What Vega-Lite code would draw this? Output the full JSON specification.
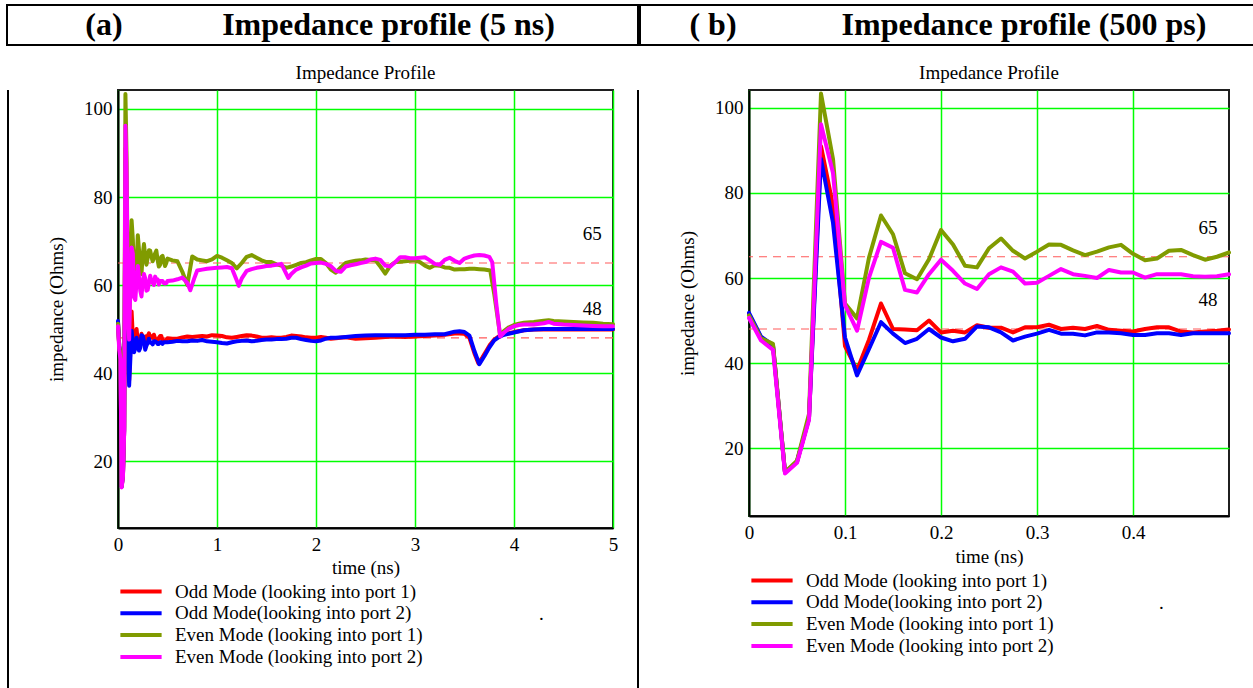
{
  "$schema": "https://vega.github.io/schema/vega-lite/v6.json",
  "padding": {"left": 5, "top": 4, "right": 0, "bottom": 0},
  "background": "white",
  "config": {
    "font": "Liberation Serif",
    "view": {"stroke": null},
    "axis": {
      "labelFont": "Liberation Serif", "labelFontSize": 19, "labelColor": "black",
      "titleFont": "Liberation Serif", "titleFontSize": 19, "titleFontWeight": "normal", "titleColor": "black",
      "grid": true, "gridColor": "#00ff00", "gridWidth": 1.5, "gridOpacity": 1,
      "ticks": false, "domainColor": "black", "domainWidth": 2,
      "labelFlush": false, "labelOverlap": false, "labelPadding": 7, "format": "~r"
    },
    "legend": {
      "orient": "bottom", "direction": "vertical",
      "symbolType": "stroke", "symbolStrokeWidth": 4, "symbolSize": 1700, "clipHeight": 19,
      "labelFont": "Liberation Serif", "labelFontSize": 19, "labelColor": "black",
      "labelOffset": 11, "labelLimit": 500, "rowPadding": 1.8, "offset": 5,
      "titleOrient": "right", "titleAnchor": "middle", "titleBaseline": "bottom", "titleFont": "Liberation Serif", "titleFontSize": 19,
      "titleFontWeight": "normal", "titleColor": "black", "titlePadding": 108
    },
    "title": {"font": "Liberation Serif", "fontSize": 19, "fontWeight": "normal", "color": "black", "anchor": "middle"}
  },
  "datasets": {
    "refs": [{"v": 65}, {"v": 48}],
    "imp": [
      {"s":"o1","t":0,"z":51.5},{"s":"o1","t":0.0125,"z":46},{"s":"o1","t":0.025,"z":44},{"s":"o1","t":0.0375,"z":14.2},{"s":"o1","t":0.05,"z":16.8},{"s":"o1","t":0.0625,"z":27},{"s":"o1","t":0.075,"z":91},{"s":"o1","t":0.0875,"z":77},{"s":"o1","t":0.1,"z":44},{"s":"o1","t":0.1125,"z":38.3},{"s":"o1","t":0.125,"z":45.5},{"s":"o1","t":0.1375,"z":54},{"s":"o1","t":0.15,"z":48},{"s":"o1","t":0.1625,"z":47.9},{"s":"o1","t":0.175,"z":47.7},{"s":"o1","t":0.1875,"z":50},{"s":"o1","t":0.2,"z":47.2},{"s":"o1","t":0.2125,"z":47.6},{"s":"o1","t":0.225,"z":47.2},{"s":"o1","t":0.2375,"z":48.9},{"s":"o1","t":0.25,"z":48.3},{"s":"o1","t":0.2625,"z":48.3},{"s":"o1","t":0.275,"z":47.2},{"s":"o1","t":0.2875,"z":48.4},{"s":"o1","t":0.3,"z":48.4},{"s":"o1","t":0.3125,"z":49.0},{"s":"o1","t":0.325,"z":48.0},{"s":"o1","t":0.3375,"z":48.3},{"s":"o1","t":0.35,"z":48.0},{"s":"o1","t":0.3625,"z":48.7},{"s":"o1","t":0.375,"z":47.8},{"s":"o1","t":0.3875,"z":47.6},{"s":"o1","t":0.4,"z":47.4},{"s":"o1","t":0.4125,"z":48.0},{"s":"o1","t":0.425,"z":48.4},{"s":"o1","t":0.4375,"z":48.4},{"s":"o1","t":0.45,"z":47.4},{"s":"o1","t":0.4625,"z":47.2},{"s":"o1","t":0.475,"z":47.4},{"s":"o1","t":0.4875,"z":47.6},{"s":"o1","t":0.5,"z":47.9},
      {"s":"o1","t":0.55,"z":47.8},{"s":"o1","t":0.6,"z":47.8},{"s":"o1","t":0.65,"z":48.1},{"s":"o1","t":0.7,"z":48.3},{"s":"o1","t":0.75,"z":48.2},{"s":"o1","t":0.8,"z":48.3},{"s":"o1","t":0.85,"z":48.4},{"s":"o1","t":0.9,"z":48.3},{"s":"o1","t":0.95,"z":48.6},{"s":"o1","t":1.0,"z":48.5},{"s":"o1","t":1.05,"z":48.4},{"s":"o1","t":1.1,"z":48.1},{"s":"o1","t":1.15,"z":48.0},{"s":"o1","t":1.2,"z":48.2},{"s":"o1","t":1.25,"z":48.4},{"s":"o1","t":1.3,"z":48.6},{"s":"o1","t":1.35,"z":48.5},{"s":"o1","t":1.4,"z":48.3},{"s":"o1","t":1.45,"z":48.0},{"s":"o1","t":1.5,"z":48.0},{"s":"o1","t":1.55,"z":48.1},{"s":"o1","t":1.6,"z":48.0},{"s":"o1","t":1.65,"z":48.0},{"s":"o1","t":1.7,"z":48.2},{"s":"o1","t":1.75,"z":48.5},{"s":"o1","t":1.8,"z":48.4},{"s":"o1","t":1.85,"z":48.3},{"s":"o1","t":1.9,"z":48.1},{"s":"o1","t":1.95,"z":48.0},{"s":"o1","t":2.0,"z":48.0},{"s":"o1","t":2.05,"z":48.2},{"s":"o1","t":2.1,"z":48.0},{"s":"o1","t":2.15,"z":47.8},{"s":"o1","t":2.2,"z":47.9},{"s":"o1","t":2.3,"z":48.1},{"s":"o1","t":2.4,"z":47.8},{"s":"o1","t":2.5,"z":47.9},{"s":"o1","t":2.6,"z":48.0},{"s":"o1","t":2.7,"z":48.2},{"s":"o1","t":2.8,"z":48.3},{"s":"o1","t":2.9,"z":48.2},{"s":"o1","t":3.0,"z":48.3},{"s":"o1","t":3.1,"z":48.4},{"s":"o1","t":3.2,"z":48.5},{"s":"o1","t":3.3,"z":48.7},{"s":"o1","t":3.4,"z":49.0},{"s":"o1","t":3.45,"z":49.0},{"s":"o1","t":3.5,"z":48.9},{"s":"o1","t":3.55,"z":48.0},{"s":"o1","t":3.6,"z":44.5},{"s":"o1","t":3.64,"z":42.2},{"s":"o1","t":3.68,"z":43.5},{"s":"o1","t":3.72,"z":45.0},{"s":"o1","t":3.76,"z":46.5},{"s":"o1","t":3.8,"z":47.6},{"s":"o1","t":3.85,"z":48.4},{"s":"o1","t":3.9,"z":48.8},{"s":"o1","t":4.0,"z":49.3},{"s":"o1","t":4.1,"z":49.7},{"s":"o1","t":4.2,"z":49.9},{"s":"o1","t":4.3,"z":49.9},{"s":"o1","t":4.5,"z":49.9},{"s":"o1","t":4.7,"z":49.9},{"s":"o1","t":5.0,"z":49.9},
      {"s":"o2","t":0,"z":51.8},{"s":"o2","t":0.0125,"z":46.2},{"s":"o2","t":0.025,"z":44.2},{"s":"o2","t":0.0375,"z":14.2},{"s":"o2","t":0.05,"z":16.8},{"s":"o2","t":0.0625,"z":27},{"s":"o2","t":0.075,"z":88},{"s":"o2","t":0.0875,"z":73},{"s":"o2","t":0.1,"z":46},{"s":"o2","t":0.1125,"z":37.1},{"s":"o2","t":0.125,"z":43.3},{"s":"o2","t":0.1375,"z":49.6},{"s":"o2","t":0.15,"z":46.9},{"s":"o2","t":0.1625,"z":44.7},{"s":"o2","t":0.175,"z":45.7},{"s":"o2","t":0.1875,"z":48},{"s":"o2","t":0.2,"z":46},{"s":"o2","t":0.2125,"z":45.1},{"s":"o2","t":0.225,"z":45.7},{"s":"o2","t":0.2375,"z":48.6},{"s":"o2","t":0.25,"z":48.4},{"s":"o2","t":0.2625,"z":47.2},{"s":"o2","t":0.275,"z":45.3},{"s":"o2","t":0.2875,"z":46.2},{"s":"o2","t":0.3,"z":46.9},{"s":"o2","t":0.3125,"z":47.8},{"s":"o2","t":0.325,"z":46.9},{"s":"o2","t":0.3375,"z":46.9},{"s":"o2","t":0.35,"z":46.5},{"s":"o2","t":0.3625,"z":47.2},{"s":"o2","t":0.375,"z":47.2},{"s":"o2","t":0.3875,"z":47.0},{"s":"o2","t":0.4,"z":46.6},{"s":"o2","t":0.4125,"z":46.6},{"s":"o2","t":0.425,"z":47.0},{"s":"o2","t":0.4375,"z":47.0},{"s":"o2","t":0.45,"z":46.6},{"s":"o2","t":0.4625,"z":47.0},{"s":"o2","t":0.475,"z":47.0},{"s":"o2","t":0.4875,"z":47.0},{"s":"o2","t":0.5,"z":47.0},
      {"s":"o2","t":0.55,"z":47.1},{"s":"o2","t":0.6,"z":47.3},{"s":"o2","t":0.65,"z":47.2},{"s":"o2","t":0.7,"z":47.2},{"s":"o2","t":0.75,"z":47.4},{"s":"o2","t":0.8,"z":47.3},{"s":"o2","t":0.85,"z":47.5},{"s":"o2","t":0.9,"z":47.2},{"s":"o2","t":0.95,"z":47.1},{"s":"o2","t":1.0,"z":47.0},{"s":"o2","t":1.05,"z":46.8},{"s":"o2","t":1.1,"z":46.7},{"s":"o2","t":1.15,"z":47.0},{"s":"o2","t":1.2,"z":47.2},{"s":"o2","t":1.25,"z":47.3},{"s":"o2","t":1.3,"z":47.4},{"s":"o2","t":1.35,"z":47.2},{"s":"o2","t":1.4,"z":47.3},{"s":"o2","t":1.45,"z":47.5},{"s":"o2","t":1.5,"z":47.6},{"s":"o2","t":1.55,"z":47.6},{"s":"o2","t":1.6,"z":47.7},{"s":"o2","t":1.65,"z":47.7},{"s":"o2","t":1.7,"z":47.8},{"s":"o2","t":1.75,"z":48.0},{"s":"o2","t":1.8,"z":48.0},{"s":"o2","t":1.85,"z":47.7},{"s":"o2","t":1.9,"z":47.5},{"s":"o2","t":1.95,"z":47.3},{"s":"o2","t":2.0,"z":47.2},{"s":"o2","t":2.05,"z":47.4},{"s":"o2","t":2.1,"z":47.8},{"s":"o2","t":2.15,"z":48.0},{"s":"o2","t":2.2,"z":48.0},{"s":"o2","t":2.3,"z":48.2},{"s":"o2","t":2.4,"z":48.4},{"s":"o2","t":2.5,"z":48.5},{"s":"o2","t":2.6,"z":48.6},{"s":"o2","t":2.7,"z":48.6},{"s":"o2","t":2.8,"z":48.6},{"s":"o2","t":2.9,"z":48.6},{"s":"o2","t":3.0,"z":48.7},{"s":"o2","t":3.1,"z":48.7},{"s":"o2","t":3.2,"z":48.8},{"s":"o2","t":3.3,"z":48.8},{"s":"o2","t":3.4,"z":49.4},{"s":"o2","t":3.45,"z":49.5},{"s":"o2","t":3.5,"z":49.3},{"s":"o2","t":3.55,"z":48.5},{"s":"o2","t":3.6,"z":45.0},{"s":"o2","t":3.65,"z":42.0},{"s":"o2","t":3.7,"z":43.8},{"s":"o2","t":3.75,"z":45.8},{"s":"o2","t":3.8,"z":47.4},{"s":"o2","t":3.85,"z":48.2},{"s":"o2","t":3.9,"z":48.7},{"s":"o2","t":4.0,"z":49.2},{"s":"o2","t":4.1,"z":49.7},{"s":"o2","t":4.2,"z":49.9},{"s":"o2","t":4.3,"z":50.0},{"s":"o2","t":4.5,"z":50.0},{"s":"o2","t":4.7,"z":50.0},{"s":"o2","t":5.0,"z":50.0},
      {"s":"e1","t":0,"z":51.2},{"s":"e1","t":0.0125,"z":45.8},{"s":"e1","t":0.025,"z":44.5},{"s":"e1","t":0.0375,"z":14.3},{"s":"e1","t":0.05,"z":17},{"s":"e1","t":0.0625,"z":28},{"s":"e1","t":0.075,"z":103.4},{"s":"e1","t":0.0875,"z":88},{"s":"e1","t":0.1,"z":54},{"s":"e1","t":0.1125,"z":50.5},{"s":"e1","t":0.125,"z":64.8},{"s":"e1","t":0.1375,"z":74.7},{"s":"e1","t":0.15,"z":70.3},{"s":"e1","t":0.1625,"z":61.1},{"s":"e1","t":0.175,"z":59.7},{"s":"e1","t":0.1875,"z":64.4},{"s":"e1","t":0.2,"z":71.3},{"s":"e1","t":0.2125,"z":67.9},{"s":"e1","t":0.225,"z":62.9},{"s":"e1","t":0.2375,"z":62.5},{"s":"e1","t":0.25,"z":67.0},{"s":"e1","t":0.2625,"z":69.3},{"s":"e1","t":0.275,"z":66.4},{"s":"e1","t":0.2875,"z":64.6},{"s":"e1","t":0.3,"z":66.2},{"s":"e1","t":0.3125,"z":67.9},{"s":"e1","t":0.325,"z":67.8},{"s":"e1","t":0.3375,"z":66.5},{"s":"e1","t":0.35,"z":65.4},{"s":"e1","t":0.3625,"z":66.2},{"s":"e1","t":0.375,"z":67.2},{"s":"e1","t":0.3875,"z":67.8},{"s":"e1","t":0.4,"z":65.7},{"s":"e1","t":0.4125,"z":64.2},{"s":"e1","t":0.425,"z":64.6},{"s":"e1","t":0.4375,"z":66.4},{"s":"e1","t":0.45,"z":66.6},{"s":"e1","t":0.4625,"z":65.4},{"s":"e1","t":0.475,"z":64.3},{"s":"e1","t":0.4875,"z":65.0},{"s":"e1","t":0.5,"z":66.0},
      {"s":"e1","t":0.55,"z":65.6},{"s":"e1","t":0.6,"z":65.4},{"s":"e1","t":0.65,"z":63.0},{"s":"e1","t":0.7,"z":60.0},{"s":"e1","t":0.75,"z":66.5},{"s":"e1","t":0.8,"z":65.8},{"s":"e1","t":0.85,"z":65.6},{"s":"e1","t":0.9,"z":65.4},{"s":"e1","t":0.95,"z":65.8},{"s":"e1","t":1.0,"z":66.6},{"s":"e1","t":1.05,"z":66.2},{"s":"e1","t":1.1,"z":65.6},{"s":"e1","t":1.15,"z":65.0},{"s":"e1","t":1.2,"z":63.8},{"s":"e1","t":1.25,"z":65.0},{"s":"e1","t":1.3,"z":66.4},{"s":"e1","t":1.35,"z":66.8},{"s":"e1","t":1.4,"z":66.2},{"s":"e1","t":1.45,"z":65.6},{"s":"e1","t":1.5,"z":65.2},{"s":"e1","t":1.55,"z":65.2},{"s":"e1","t":1.6,"z":64.7},{"s":"e1","t":1.65,"z":64.4},{"s":"e1","t":1.7,"z":63.9},{"s":"e1","t":1.75,"z":64.2},{"s":"e1","t":1.8,"z":64.6},{"s":"e1","t":1.85,"z":65.0},{"s":"e1","t":1.9,"z":65.2},{"s":"e1","t":1.95,"z":65.6},{"s":"e1","t":2.0,"z":65.9},{"s":"e1","t":2.05,"z":65.9},{"s":"e1","t":2.1,"z":65.0},{"s":"e1","t":2.15,"z":63.5},{"s":"e1","t":2.2,"z":62.8},{"s":"e1","t":2.25,"z":64.0},{"s":"e1","t":2.3,"z":65.0},{"s":"e1","t":2.35,"z":65.3},{"s":"e1","t":2.4,"z":65.5},{"s":"e1","t":2.45,"z":65.6},{"s":"e1","t":2.5,"z":65.8},{"s":"e1","t":2.55,"z":65.7},{"s":"e1","t":2.6,"z":65.6},{"s":"e1","t":2.65,"z":64.2},{"s":"e1","t":2.7,"z":62.6},{"s":"e1","t":2.75,"z":64.4},{"s":"e1","t":2.8,"z":65.2},{"s":"e1","t":2.85,"z":65.3},{"s":"e1","t":2.9,"z":65.4},{"s":"e1","t":2.95,"z":65.5},{"s":"e1","t":3.0,"z":65.6},{"s":"e1","t":3.05,"z":65.2},{"s":"e1","t":3.1,"z":64.4},{"s":"e1","t":3.15,"z":63.9},{"s":"e1","t":3.2,"z":64.5},{"s":"e1","t":3.25,"z":64.4},{"s":"e1","t":3.3,"z":64.0},{"s":"e1","t":3.35,"z":63.9},{"s":"e1","t":3.4,"z":63.5},{"s":"e1","t":3.45,"z":63.6},{"s":"e1","t":3.5,"z":63.6},{"s":"e1","t":3.55,"z":63.7},{"s":"e1","t":3.6,"z":63.7},{"s":"e1","t":3.65,"z":63.6},{"s":"e1","t":3.7,"z":63.5},{"s":"e1","t":3.76,"z":63.3},{"s":"e1","t":3.8,"z":58.0},{"s":"e1","t":3.86,"z":48.6},{"s":"e1","t":3.9,"z":49.6},{"s":"e1","t":3.95,"z":50.4},{"s":"e1","t":4.0,"z":50.9},{"s":"e1","t":4.05,"z":51.2},{"s":"e1","t":4.1,"z":51.4},{"s":"e1","t":4.2,"z":51.6},{"s":"e1","t":4.3,"z":51.9},{"s":"e1","t":4.35,"z":52.0},{"s":"e1","t":4.4,"z":51.8},{"s":"e1","t":4.5,"z":51.7},{"s":"e1","t":4.6,"z":51.6},{"s":"e1","t":4.7,"z":51.5},{"s":"e1","t":4.8,"z":51.4},{"s":"e1","t":4.9,"z":51.2},{"s":"e1","t":5.0,"z":51.1},
      {"s":"e2","t":0,"z":50.6},{"s":"e2","t":0.0125,"z":45.3},{"s":"e2","t":0.025,"z":43.1},{"s":"e2","t":0.0375,"z":14.0},{"s":"e2","t":0.05,"z":16.5},{"s":"e2","t":0.0625,"z":26.6},{"s":"e2","t":0.075,"z":96.2},{"s":"e2","t":0.0875,"z":84.7},{"s":"e2","t":0.1,"z":53.6},{"s":"e2","t":0.1125,"z":47.6},{"s":"e2","t":0.125,"z":60.1},{"s":"e2","t":0.1375,"z":68.5},{"s":"e2","t":0.15,"z":67.1},{"s":"e2","t":0.1625,"z":57.2},{"s":"e2","t":0.175,"z":56.6},{"s":"e2","t":0.1875,"z":60.9},{"s":"e2","t":0.2,"z":64.3},{"s":"e2","t":0.2125,"z":61.7},{"s":"e2","t":0.225,"z":58.7},{"s":"e2","t":0.2375,"z":57.4},{"s":"e2","t":0.25,"z":60.9},{"s":"e2","t":0.2625,"z":62.5},{"s":"e2","t":0.275,"z":61.5},{"s":"e2","t":0.2875,"z":58.7},{"s":"e2","t":0.3,"z":58.9},{"s":"e2","t":0.3125,"z":60.5},{"s":"e2","t":0.325,"z":62.1},{"s":"e2","t":0.3375,"z":60.9},{"s":"e2","t":0.35,"z":60.5},{"s":"e2","t":0.3625,"z":60.0},{"s":"e2","t":0.375,"z":61.9},{"s":"e2","t":0.3875,"z":61.3},{"s":"e2","t":0.4,"z":61.3},{"s":"e2","t":0.4125,"z":60.1},{"s":"e2","t":0.425,"z":60.9},{"s":"e2","t":0.4375,"z":60.9},{"s":"e2","t":0.45,"z":60.9},{"s":"e2","t":0.4625,"z":60.4},{"s":"e2","t":0.475,"z":60.3},{"s":"e2","t":0.4875,"z":60.4},{"s":"e2","t":0.5,"z":60.9},
      {"s":"e2","t":0.55,"z":61.0},{"s":"e2","t":0.6,"z":61.3},{"s":"e2","t":0.65,"z":61.7},{"s":"e2","t":0.7,"z":60.5},{"s":"e2","t":0.73,"z":58.8},{"s":"e2","t":0.77,"z":61.5},{"s":"e2","t":0.8,"z":63.3},{"s":"e2","t":0.85,"z":63.5},{"s":"e2","t":0.9,"z":63.7},{"s":"e2","t":0.95,"z":63.8},{"s":"e2","t":1.0,"z":63.9},{"s":"e2","t":1.05,"z":64.0},{"s":"e2","t":1.1,"z":64.1},{"s":"e2","t":1.15,"z":63.8},{"s":"e2","t":1.2,"z":61.0},{"s":"e2","t":1.22,"z":59.8},{"s":"e2","t":1.25,"z":61.5},{"s":"e2","t":1.3,"z":63.2},{"s":"e2","t":1.35,"z":63.6},{"s":"e2","t":1.4,"z":63.9},{"s":"e2","t":1.45,"z":64.1},{"s":"e2","t":1.5,"z":64.3},{"s":"e2","t":1.55,"z":64.4},{"s":"e2","t":1.6,"z":64.6},{"s":"e2","t":1.65,"z":64.8},{"s":"e2","t":1.69,"z":63.0},{"s":"e2","t":1.72,"z":61.6},{"s":"e2","t":1.75,"z":62.5},{"s":"e2","t":1.8,"z":63.5},{"s":"e2","t":1.85,"z":64.0},{"s":"e2","t":1.9,"z":64.4},{"s":"e2","t":1.95,"z":64.9},{"s":"e2","t":2.0,"z":65.0},{"s":"e2","t":2.05,"z":65.1},{"s":"e2","t":2.1,"z":64.8},{"s":"e2","t":2.15,"z":64.3},{"s":"e2","t":2.2,"z":63.2},{"s":"e2","t":2.25,"z":63.0},{"s":"e2","t":2.3,"z":64.2},{"s":"e2","t":2.35,"z":64.5},{"s":"e2","t":2.4,"z":64.7},{"s":"e2","t":2.45,"z":65.0},{"s":"e2","t":2.5,"z":65.2},{"s":"e2","t":2.55,"z":65.8},{"s":"e2","t":2.6,"z":66.0},{"s":"e2","t":2.65,"z":65.7},{"s":"e2","t":2.7,"z":64.4},{"s":"e2","t":2.75,"z":64.2},{"s":"e2","t":2.8,"z":65.2},{"s":"e2","t":2.85,"z":66.3},{"s":"e2","t":2.9,"z":66.3},{"s":"e2","t":2.95,"z":66.1},{"s":"e2","t":3.0,"z":66.1},{"s":"e2","t":3.05,"z":66.2},{"s":"e2","t":3.1,"z":66.3},{"s":"e2","t":3.15,"z":65.6},{"s":"e2","t":3.2,"z":64.8},{"s":"e2","t":3.25,"z":64.6},{"s":"e2","t":3.3,"z":65.7},{"s":"e2","t":3.35,"z":66.2},{"s":"e2","t":3.4,"z":65.5},{"s":"e2","t":3.45,"z":65.0},{"s":"e2","t":3.5,"z":66.0},{"s":"e2","t":3.55,"z":66.4},{"s":"e2","t":3.6,"z":66.7},{"s":"e2","t":3.65,"z":66.8},{"s":"e2","t":3.7,"z":66.7},{"s":"e2","t":3.75,"z":66.4},{"s":"e2","t":3.78,"z":65.2},{"s":"e2","t":3.82,"z":56.0},{"s":"e2","t":3.86,"z":48.3},{"s":"e2","t":3.9,"z":49.2},{"s":"e2","t":3.95,"z":50.1},{"s":"e2","t":4.0,"z":50.6},{"s":"e2","t":4.05,"z":50.9},{"s":"e2","t":4.1,"z":51.0},{"s":"e2","t":4.2,"z":51.0},{"s":"e2","t":4.3,"z":51.3},{"s":"e2","t":4.35,"z":51.6},{"s":"e2","t":4.4,"z":51.2},{"s":"e2","t":4.5,"z":51.0},{"s":"e2","t":4.6,"z":50.9},{"s":"e2","t":4.7,"z":50.8},{"s":"e2","t":4.8,"z":50.7},{"s":"e2","t":4.9,"z":50.6},{"s":"e2","t":5.0,"z":50.6}
    ]
  },
  "spacing": 0,
  "resolve": {"scale": {"color": "independent"}, "legend": {"color": "independent"}},
  "vconcat": [
    {
      "spacing": 0,
      "hconcat": [
        {
          "width": 631, "height": 40,
          "view": {"stroke": "black", "strokeWidth": 2},
          "data": {"values": [{"k": "l", "txt": "(a)"}, {"k": "r", "txt": "Impedance profile (5 ns)"}]},
          "mark": {"type": "text", "font": "Liberation Serif", "fontWeight": "bold", "fontSize": 32, "color": "black", "align": "center"},
          "encoding": {
            "x": {"field": "k", "type": "nominal", "scale": {"type": "point", "domain": ["l", "r"], "padding": 0.609, "align": 0.28}, "axis": null},
            "text": {"field": "txt"}
          }
        },
        {
          "width": 620, "height": 40,
          "view": {"stroke": "black", "strokeWidth": 2},
          "data": {"values": [{"k": "l", "txt": "( b)"}, {"k": "r", "txt": "Impedance profile (500 ps)"}]},
          "mark": {"type": "text", "font": "Liberation Serif", "fontWeight": "bold", "fontSize": 32, "color": "black", "align": "center"},
          "encoding": {
            "x": {"field": "k", "type": "nominal", "scale": {"type": "point", "domain": ["l", "r"], "padding": 0.4968, "align": 0.2362}, "axis": null},
            "text": {"field": "txt"}
          }
        }
      ]
    },
    {
      "spacing": 16,
      "resolve": {"scale": {"color": "independent"}, "legend": {"color": "independent"}},
      "hconcat": [
        {
          "spacing": 35,
          "resolve": {"scale": {"color": "independent"}, "legend": {"color": "independent"}},
          "hconcat": [
            {
              "width": 2, "height": 660,
              "view": {"stroke": null, "fill": "black"},
              "data": {"values": [{}]},
              "mark": {"type": "point", "opacity": 0}
            },
            {
              "width": 495, "height": 438,
              "title": {"text": ["\u00a0", "Impedance Profile"], "baseline": "bottom", "offset": -12, "lineHeight": 17},
              "view": {"stroke": "#1f1f1f", "strokeWidth": 2},
              "layer": [
                {
                  "data": {"name": "refs"},
                  "mark": {"type": "rule", "color": "#ff5a5a", "strokeDash": [8, 6], "strokeWidth": 1.2},
                  "encoding": {"y": {"field": "v", "type": "quantitative"}}
                },
                {
                  "data": {"name": "imp"},
                  "mark": {"type": "line", "strokeWidth": 4, "strokeJoin": "round", "strokeCap": "round"},
                  "encoding": {
                    "x": {"field": "t", "type": "quantitative", "scale": {"domain": [0, 5], "nice": false, "zero": false},
                          "axis": {"title": "time (ns)", "values": [0, 1, 2, 3, 4, 5], "titlePadding": 4}},
                    "y": {"field": "z", "type": "quantitative", "scale": {"domain": [4.77273, 104.31818], "nice": false, "zero": false},
                          "axis": {"title": "impedance (Ohms)", "values": [20, 40, 60, 80, 100], "titlePadding": 17, "labelPadding": 6}},
                    "color": {"field": "s", "type": "nominal",
                              "scale": {"domain": ["o1", "o2", "e1", "e2"], "range": ["#ff0000", "#0000ff", "#809b00", "#ff00ff"]},
                              "legend": {"title": ".", "titlePadding": 117, "labelExpr": "datum.label == 'o1' ? 'Odd Mode (looking into port 1)' : datum.label == 'o2' ? 'Odd Mode(looking into port 2)' : datum.label == 'e1' ? 'Even Mode (looking into port 1)' : 'Even Mode (looking into port 2)'"}}
                  }
                },
                {
                  "data": {"name": "refs"},
                  "mark": {"type": "text", "fontSize": 19, "dy": -29, "align": "center", "baseline": "middle", "color": "black"},
                  "encoding": {"y": {"field": "v", "type": "quantitative"}, "x": {"datum": 4.79}, "text": {"field": "v", "type": "quantitative"}}
                }
              ]
            }
          ]
        },
        {
          "spacing": 36,
          "resolve": {"scale": {"color": "independent"}, "legend": {"color": "independent"}},
          "hconcat": [
            {
              "width": 2, "height": 660,
              "view": {"stroke": null, "fill": "black"},
              "data": {"values": [{}]},
              "mark": {"type": "point", "opacity": 0}
            },
            {
              "width": 480, "height": 426,
              "title": {"text": ["\u00a0", "Impedance Profile"], "baseline": "bottom", "offset": -12, "lineHeight": 17},
              "view": {"stroke": "#1f1f1f", "strokeWidth": 2},
              "layer": [
                {
                  "data": {"name": "refs"},
                  "mark": {"type": "rule", "color": "#ff5a5a", "strokeDash": [8, 6], "strokeWidth": 1.2},
                  "encoding": {"y": {"field": "v", "type": "quantitative"}}
                },
                {
                  "data": {"name": "imp"},
                  "transform": [{"filter": "datum.t <= 0.5001"}],
                  "mark": {"type": "line", "strokeWidth": 4, "strokeJoin": "round", "strokeCap": "round"},
                  "encoding": {
                    "x": {"field": "t", "type": "quantitative", "scale": {"domain": [0, 0.5], "nice": false, "zero": false},
                          "axis": {"title": "time (ns)", "values": [0, 0.1, 0.2, 0.3, 0.4], "titlePadding": 5}},
                    "y": {"field": "z", "type": "quantitative", "scale": {"domain": [4.0, 104.23529], "nice": false, "zero": false},
                          "axis": {"title": "impedance (Ohms)", "values": [20, 40, 60, 80, 100], "titlePadding": 17, "labelPadding": 6}},
                    "color": {"field": "s", "type": "nominal",
                              "scale": {"domain": ["o1", "o2", "e1", "e2"], "range": ["#ff0000", "#0000ff", "#809b00", "#ff00ff"]},
                              "legend": {"title": ".", "titlePadding": 106, "labelExpr": "datum.label == 'o1' ? 'Odd Mode (looking into port 1)' : datum.label == 'o2' ? 'Odd Mode(looking into port 2)' : datum.label == 'e1' ? 'Even Mode (looking into port 1)' : 'Even Mode (looking into port 2)'"}}
                  }
                },
                {
                  "data": {"name": "refs"},
                  "mark": {"type": "text", "fontSize": 19, "dy": -29, "align": "center", "baseline": "middle", "color": "black"},
                  "encoding": {"y": {"field": "v", "type": "quantitative"}, "x": {"datum": 0.478}, "text": {"field": "v", "type": "quantitative"}}
                }
              ]
            }
          ]
        }
      ]
    }
  ]
}
